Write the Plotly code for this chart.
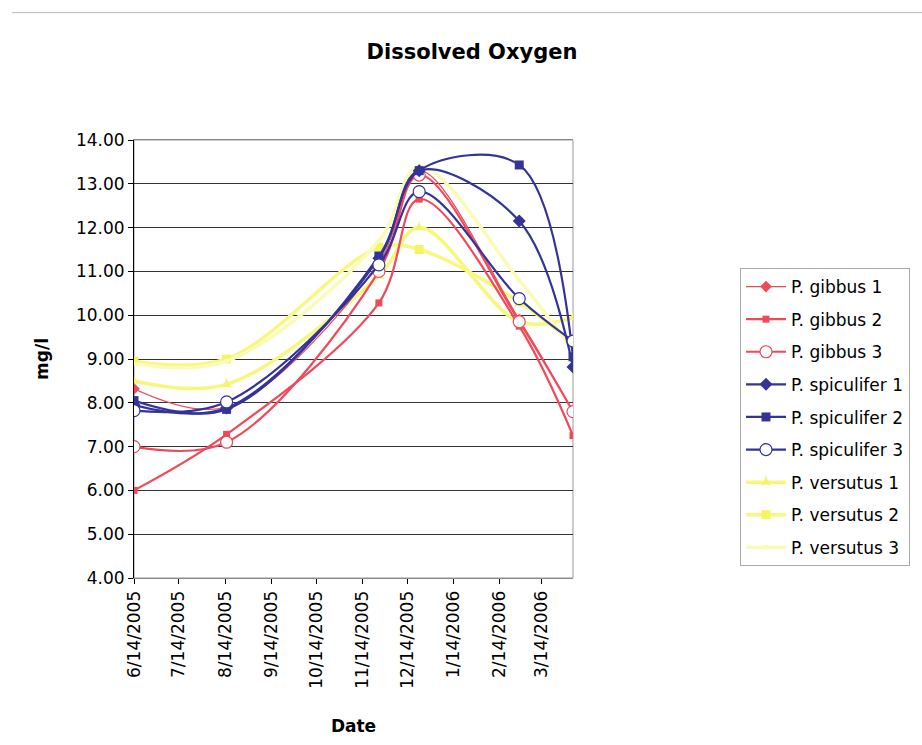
import plotly.graph_objects as go

dates = ["2005-06-14", "2005-08-15", "2005-11-25", "2005-12-22", "2006-02-27", "2006-04-04"]

gibbus1 = [8.32, 7.90, 11.20, 13.30, 9.90, 7.80]
gibbus2 = [6.00, 7.28, 10.28, 12.65, 9.75, 7.25]
gibbus3 = [7.00, 7.10, 11.00, 13.20, 9.85, 7.80]
spic1 = [7.95, 7.88, 11.30, 13.30, 12.15, 8.82]
spic2 = [8.05, 7.85, 11.35, 13.30, 13.43, 9.05]
spic3 = [7.82, 8.02, 11.15, 12.82, 10.38, 9.41]
vers1 = [8.50, 8.42, 10.90, 12.00, 9.85, 9.95]
vers2 = [8.95, 9.00, 11.55, 11.50, 10.30, 9.35]
vers3 = [8.90, 8.95, 11.70, 13.40, 10.80, 9.20]

tick_dates = ["2005-06-14", "2005-07-14", "2005-08-14", "2005-09-14", "2005-10-14",
              "2005-11-14", "2005-12-14", "2006-01-14", "2006-02-14", "2006-03-14"]
tick_labels = ["6/14/2005", "7/14/2005", "8/14/2005", "9/14/2005", "10/14/2005",
               "11/14/2005", "12/14/2005", "1/14/2006", "2/14/2006", "3/14/2006"]
y_ticks = [4, 5, 6, 7, 8, 9, 10, 11, 12, 13, 14]

RED = "#F0495A"
NAVY = "#333399"
FONT = "DejaVu Sans, Liberation Sans, Arial, sans-serif"

series = [
    ("P. gibbus 1", gibbus1, RED, 1.2, dict(symbol="diamond", size=9, color=RED)),
    ("P. gibbus 2", gibbus2, RED, 2.2, dict(symbol="square", size=7, color=RED)),
    ("P. gibbus 3", gibbus3, RED, 2.2, dict(symbol="circle", size=12, color="white", line=dict(color=RED, width=1.2))),
    ("P. spiculifer 1", spic1, NAVY, 2.2, dict(symbol="diamond", size=10, color=NAVY)),
    ("P. spiculifer 2", spic2, NAVY, 2.2, dict(symbol="square", size=9, color=NAVY)),
    ("P. spiculifer 3", spic3, NAVY, 2.2, dict(symbol="circle", size=12, color="white", line=dict(color=NAVY, width=1.2))),
    ("P. versutus 1", vers1, "#F7F77C", 3.5, dict(symbol="star-triangle-up", size=9, color="#F4F466")),
    ("P. versutus 2", vers2, "#F8F880", 3.5, dict(symbol="square", size=9, color="#F4F462")),
    ("P. versutus 3", vers3, "#FBFBB8", 3.5, dict(symbol="circle", size=5, color="#FAFAB8")),
]

fig = go.Figure()
order = [6, 7, 8, 0, 1, 2, 3, 4, 5]
for i in order:
    name, vals, col, w, mk = series[i]
    fig.add_trace(go.Scatter(
        x=dates, y=vals, name=name, mode="lines+markers",
        line=dict(color=col, width=w, shape="spline", smoothing=1.0),
        marker=mk, legendrank=i + 1, legendgroup=f"g{i}",
    ))

fig.update_layout(
    width=922, height=745,
    margin=dict(l=134, r=349, t=140, b=165),
    paper_bgcolor="white", plot_bgcolor="white",
    font=dict(family=FONT, size=17, color="black"),
    title=dict(text="<b>Dissolved Oxygen</b>", x=472 / 922, xref="container", xanchor="center",
               y=1 - 52 / 745, yref="container", yanchor="middle",
               font=dict(size=21, color="black", family=FONT)),
    legend=dict(x=740 / 922, xref="container", y=1 - 268 / 745, yref="container",
                xanchor="left", yanchor="top", bgcolor="white", bordercolor="#aaaaaa",
                borderwidth=1, font=dict(size=17, family=FONT), tracegroupgap=7.5,
                itemwidth=40),
    showlegend=True,
)

fig.update_xaxes(
    type="date", range=["2005-06-14", "2006-04-04"],
    tickvals=tick_dates, ticktext=tick_labels, tickangle=-90,
    ticks="outside", ticklen=5, tickcolor="black",
    showgrid=False, showline=True, linecolor="#888888", linewidth=1, mirror=True,
    title=dict(text="<b>Date</b>", standoff=32, font=dict(size=17)),
    tickfont=dict(size=17),
)
fig.update_yaxes(
    range=[4, 14], tickvals=y_ticks, ticktext=[f"{v:.2f}" for v in y_ticks],
    ticks="outside", ticklen=5, tickcolor="black",
    showgrid=True, gridcolor="#333333", gridwidth=1,
    showline=True, linecolor="black", linewidth=1, mirror=False,
    zeroline=False,
    title=dict(text="<b>mg/l</b>", standoff=22, font=dict(size=17)),
    tickfont=dict(size=17),
)
fig.add_shape(type="rect", xref="paper", yref="paper", x0=0, y0=0, x1=1, y1=1,
              line=dict(color="#999999", width=1), layer="below")
# faint chart-area border line at top
fig.add_shape(type="line", xref="paper", yref="paper",
              x0=-122 / 439, x1=(922 - 134) / 439, y0=(580 - 12) / 440,
              y1=(580 - 12) / 440, line=dict(color="#bbbbbb", width=1))

fig.write_html("out.html")
